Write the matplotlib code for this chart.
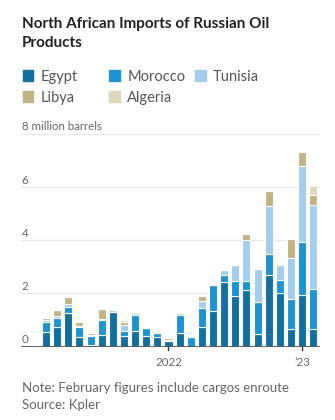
import matplotlib
matplotlib.use("Agg")
import matplotlib.pyplot as plt
import matplotlib.transforms as mtransforms
from matplotlib.patches import Rectangle
import numpy as np

# Monthly imports, million barrels, Feb 2021 - Feb 2023
months = ["Feb 21", "Mar 21", "Apr 21", "May 21", "Jun 21", "Jul 21", "Aug 21",
          "Sep 21", "Oct 21", "Nov 21", "Dec 21", "Jan 22", "Feb 22", "Mar 22",
          "Apr 22", "May 22", "Jun 22", "Jul 22", "Aug 22", "Sep 22", "Oct 22",
          "Nov 22", "Dec 22", "Jan 23", "Feb 23"]
egypt = [0.54, 0.73, 1.26, 0.37, 0.06, 0.44, 1.30, 0.40, 0.60, 0.38, 0.36, 0.19,
         0.52, 0.00, 0.74, 1.32, 2.41, 1.91, 2.14, 0.46, 2.71, 2.02, 0.66, 1.95, 0.66]
morocco = [0.40, 0.34, 0.22, 0.36, 0.34, 0.54, 0.00, 0.18, 0.57, 0.30, 0.15, 0.00,
           0.65, 0.35, 0.70, 0.98, 0.30, 0.57, 0.31, 1.21, 0.76, 0.50, 1.13, 2.00, 1.52]
tunisia = [0.05, 0.06, 0.13, 0.05, 0.04, 0.05, 0.06, 0.22, 0.10, 0.00, 0.00, 0.07,
           0.09, 0.00, 0.28, 0.02, 0.18, 0.60, 1.55, 1.25, 1.82, 0.54, 1.55, 2.86, 3.15]
libya = [0.10, 0.24, 0.26, 0.16, 0.06, 0.38, 0.07, 0.11, 0.00, 0.00, 0.00, 0.05,
         0.00, 0.00, 0.18, 0.00, 0.00, 0.00, 0.22, 0.00, 0.57, 0.00, 0.72, 0.51, 0.37]
algeria = [0.00, 0.00, 0.00, 0.00, 0.00, 0.00, 0.00, 0.09, 0.00, 0.00, 0.00, 0.04,
           0.00, 0.00, 0.00, 0.00, 0.00, 0.00, 0.00, 0.00, 0.00, 0.00, 0.00, 0.00, 0.35]

countries = ["Egypt", "Morocco", "Tunisia", "Libya", "Algeria"]
series = [egypt, morocco, tunisia, libya, algeria]
colors = ["#12709f", "#1c93d2", "#a2cdec", "#c2b482", "#ddd8b8"]

y_ticks = [0, 2, 4, 6, 8]
x_tick_months = ["Jan 22", "Jan 23"]
x_tick_labels = ["2022", "\u201923"]

W, H = 335, 420
fig = plt.figure(figsize=(W / 100, H / 100), dpi=100)
fig.patch.set_facecolor("white")

FONT = "Lato"
GREY = "#666666"


def fy(py):
    return 1 - py / H


def fx(px):
    return px / W


# plot area: baseline at y=346.5 px, 8-line at y=134 px
ax = fig.add_axes([fx(21), fy(346.5), fx(320) - fx(21), fy(134) - fy(346.5)])
x = np.arange(len(months))
ax.set_xlim(-2.24, len(months) - 1 + 0.6)
ax.set_ylim(0, 8)
for s in ax.spines.values():
    s.set_visible(False)
ax.set_xticks([])
ax.set_yticks([])

for v in y_ticks[1:]:
    ax.axhline(v, color="#e8e8e8", lw=1.0, zorder=0)

bottom = np.zeros(len(months))
for name, vals, c in zip(countries, series, colors):
    vals = np.array(vals)
    ax.bar(x, vals, bottom=bottom, width=0.72, color=c, edgecolor="white",
           linewidth=0.8, zorder=2)
    bottom += vals

ax.axhline(0, color="#555555", lw=1.3, zorder=3)

# x ticks and labels
trans_x = mtransforms.blended_transform_factory(ax.transData, fig.transFigure)
for m, lab in zip(x_tick_months, x_tick_labels):
    i = months.index(m)
    ax.plot([i, i], [0, -0.12], color="#333333", lw=1.0, clip_on=False, zorder=3)
    ax.text(i, fy(366), lab, transform=trans_x, ha="center", va="baseline",
            fontsize=8.3, color=GREY, family=FONT)

# y tick labels sit just above their gridlines
trans_y = mtransforms.blended_transform_factory(fig.transFigure, ax.transData)
for v in y_ticks:
    lab = "8 million barrels" if v == 8 else str(v)
    ax.text(fx(21.7), v + 3.5 / 26.56, lab, transform=trans_y, ha="left",
            va="baseline", fontsize=8.3, color=GREY, family=FONT)

# title
fig.text(fx(21.5), fy(27.7), "North African Imports of Russian Oil",
         fontsize=11, fontweight="bold", color="#222222", family=FONT,
         va="baseline")
fig.text(fx(21.5), fy(47.3), "Products",
         fontsize=11, fontweight="bold", color="#222222", family=FONT,
         va="baseline")

# legend
legend_pos = [(22.7, 81), (109.3, 81), (195, 81), (22.7, 101.7), (109.3, 101.7)]
for (lx, ly), name, c in zip(legend_pos, countries, colors):
    fig.patches.append(Rectangle((fx(lx), fy(ly)), fx(10.5), 10.5 / H,
                                 transform=fig.transFigure, color=c))
    fig.text(fx(lx + 18), fy(ly), name, fontsize=10.5, color="#555555",
             family=FONT, va="baseline")

# notes
fig.text(fx(21.7), fy(391.7), "Note: February figures include cargos enroute",
         fontsize=9.5, color=GREY, family=FONT, va="baseline")
fig.text(fx(21.7), fy(409.3), "Source: Kpler",
         fontsize=9.5, color=GREY, family=FONT, va="baseline")

fig.savefig("out.png", dpi=100, facecolor="white")
